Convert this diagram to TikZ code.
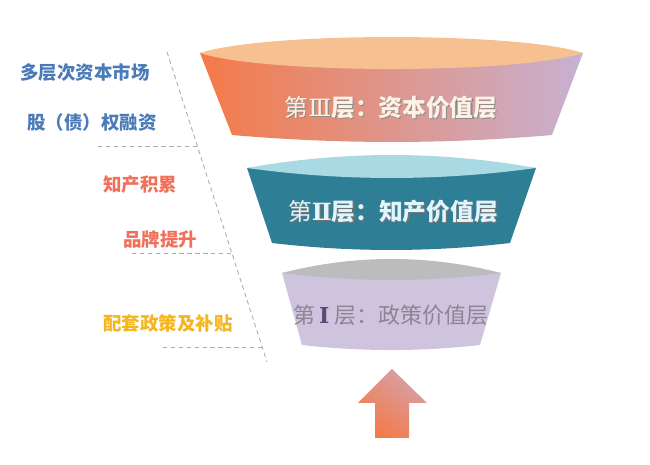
\documentclass[tikz,border=0pt]{standalone}
\usepackage{fontspec}
\setmainfont{Noto Sans CJK SC}
\newfontfamily\romnum{DejaVu Serif}
\usetikzlibrary{positioning, calc}

\definecolor{capblue}{HTML}{4A7BB8}
\definecolor{ipred}{HTML}{F2705A}
\definecolor{polgold}{HTML}{F5B51C}
\definecolor{topL}{HTML}{F47A48}
\definecolor{topR}{HTML}{C8B1D2}
\definecolor{topCap}{HTML}{F6C090}
\definecolor{midBody}{HTML}{2E7F96}
\definecolor{midCap}{HTML}{A9D9E3}
\definecolor{lowBody}{HTML}{CFC4DE}
\definecolor{lowCap}{HTML}{BCBBBE}
\definecolor{lowTxt}{HTML}{8C8494}
\definecolor{lowNum}{HTML}{5B4A78}

% text with a soft drop shadow
\newcommand\shtext[2]{\makebox[0pt][l]{\hspace{0.7pt}\raisebox{-0.7pt}{\color{#1}#2}}#2}

\begin{document}
\begin{tikzpicture}[
  x=0.02cm, y=-0.02cm,
  % --- styles ------------------------------------------------------------
  lbl/.style={font=\bfseries\fontsize{10.5}{12}\selectfont, inner sep=0pt},
  layertxt/.style={font=\fontsize{13.5}{15}\selectfont, inner sep=0pt},
  guide/.style={gray!65, line width=0.5pt, dash pattern=on 2.5pt off 2pt}
]
\useasboundingbox (0,0) rectangle (650,465);

% --------------------- layer III (capital) ------------------------------
\shade[left color=topL, right color=topR]
  (200,53) -- (232,135) .. controls (339,144.3) and (445,144.3) .. (552,135)
  -- (583,53) -- cycle;
\fill[topCap]
  (200,53) .. controls (265,31.7) and (518,31.7) .. (583,53)
  .. controls (518,74.3) and (265,74.3) .. cycle;
\node[layertxt, text=white!90!orange] (L3) at (391,108)
  {\shtext{black!45}{第{\romnum Ⅲ}\bfseries 层：资本价值层}};

% --------------------- layer II (IP) ------------------------------------
\fill[midBody]
  (247,168) -- (272,243) .. controls (351,252.3) and (431,252.3) .. (510,243)
  -- (536,168) -- cycle;
\fill[midCap]
  (247,168) .. controls (343,150.7) and (440,150.7) .. (536,168)
  .. controls (440,181.3) and (343,181.3) .. cycle;
\node[layertxt, text=white!88!cyan] (L2) at (393,212)
  {\shtext{black!55}{第{\romnum\bfseries Ⅱ}\bfseries 层：知产价值层}};

% --------------------- layer I (policy) ---------------------------------
\fill[lowBody]
  (282,273) -- (302,345) .. controls (361,351.7) and (421,351.7) .. (480,345)
  -- (501,273) -- cycle;
\fill[lowCap]
  (282,273) .. controls (355,254.3) and (428,254.3) .. (501,273)
  .. controls (428,282.3) and (355,282.3) .. cycle;
\node[layertxt, font=\fontsize{12.5}{14}\selectfont, text=lowTxt] (L1) at (391,315)
  {第\hspace{2pt}{\romnum\color{lowNum}\bfseries Ⅰ}\hspace{3pt}层：政策价值层};

% --------------------- up arrow -----------------------------------------
\shade[top color=topR!70!topL, bottom color=topL, shading angle=-35]
  (392,369) -- (427,403) -- (409,403) -- (409,438) -- (375,438)
  -- (375,403) -- (358,403) -- cycle;

% --------------------- left labels --------------------------------------
\node[lbl, text=capblue] (cap) at (85,72) {多层次资本市场};
\node[lbl, text=capblue] (equity) at (92,122) {股（债）权融资};
\node[lbl, text=ipred] (ip) at (140,185) {知产积累};
\node[lbl, text=ipred] (brand) at (160,240) {品牌提升};
\node[lbl, text=polgold] (policy) at (168,323) {配套政策及补贴};

% --------------------- dashed guides ------------------------------------
\coordinate (gTop) at (167,52);
\coordinate (gBot) at (267,362);
\draw[guide] (gTop) -- (gBot);
\draw[guide] (98,146) -- (197,146);
\draw[guide] (132,253) -- (233,253);
\draw[guide] (163,347) -- (263,347);

\end{tikzpicture}
\end{document}
